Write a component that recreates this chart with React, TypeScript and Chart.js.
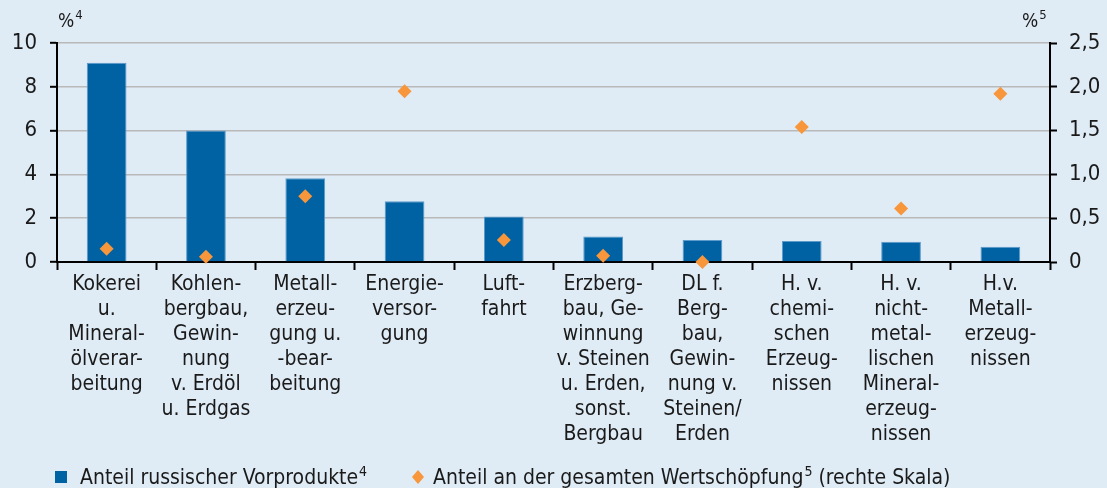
import React, { useEffect, useRef } from "react";
import { Chart, registerables } from "chart.js";

Chart.register(...registerables);

const categories: string[][] = [
  ["Kokerei", "u.", "Mineral-", "ölverar-", "beitung"],
  ["Kohlen-", "bergbau,", "Gewin-", "nung", "v. Erdöl", "u. Erdgas"],
  ["Metall-", "erzeu-", "gung u.", "-bear-", "beitung"],
  ["Energie-", "versor-", "gung"],
  ["Luft-", "fahrt"],
  ["Erzberg-", "bau, Ge-", "winnung", "v. Steinen", "u. Erden,", "sonst.", "Bergbau"],
  ["DL f.", "Berg-", "bau,", "Gewin-", "nung v.", "Steinen/", "Erden"],
  ["H. v.", "chemi-", "schen", "Erzeug-", "nissen"],
  ["H. v.", "nicht-", "metal-", "lischen", "Mineral-", "erzeug-", "nissen"],
  ["H.v.", "Metall-", "erzeug-", "nissen"],
];

const russianInputShare = [9.1, 6.0, 3.82, 2.77, 2.08, 1.17, 1.0, 0.96, 0.93, 0.7];
const valueAddedShare = [0.15, 0.06, 0.75, 1.95, 0.25, 0.07, 0.0, 1.54, 0.61, 1.92];

const leftTickValues = [0, 2, 4, 6, 8, 10];
const rightTickValues = [0, 0.5, 1.0, 1.5, 2.0, 2.5];

const legendBarLabel = "Anteil russischer Vorprodukte";
const legendBarSup = "4";
const legendPointLabel = "Anteil an der gesamten Wertschöpfung";
const legendPointSup = "5";
const legendPointSuffix = " (rechte Skala)";
const leftUnit = "%";
const leftUnitSup = "4";
const rightUnit = "%";
const rightUnitSup = "5";

const BG = "#dfebf5";
const BAR = "#0062a3";
const BAR_EDGE = "#5c9acb";
const DIAMOND = "#f7963a";
const GRID = "#b9b9b9";
const TEXT = "#1a1a1a";
const FAMILY = "'DejaVu Sans Condensed', 'DejaVu Sans', sans-serif";

function drawSupText(
  ctx: CanvasRenderingContext2D,
  x: number,
  y: number,
  main: string,
  sup: string,
  suffix: string,
  size: number
) {
  ctx.textBaseline = "alphabetic";
  ctx.textAlign = "left";
  ctx.font = `${size}px ${FAMILY}`;
  ctx.fillText(main, x, y);
  let cx = x + ctx.measureText(main).width + 1;
  ctx.font = `${Math.round(size * 0.68)}px ${FAMILY}`;
  ctx.fillText(sup, cx, y - size * 0.4);
  cx += ctx.measureText(sup).width;
  if (suffix) {
    ctx.font = `${size}px ${FAMILY}`;
    ctx.fillText(suffix, cx, y);
  }
}

const decorPlugin = {
  id: "decor",
  beforeDraw(chart: any) {
    const ctx = chart.ctx as CanvasRenderingContext2D;
    ctx.save();
    ctx.fillStyle = BG;
    ctx.fillRect(0, 0, chart.width, chart.height);
    ctx.restore();
  },
  afterDraw(chart: any) {
    const ctx = chart.ctx as CanvasRenderingContext2D;
    const area = chart.chartArea;
    ctx.save();
    ctx.fillStyle = TEXT;
    // unit labels
    drawSupText(ctx, area.left + 1, 27, leftUnit, leftUnitSup, "", 19);
    drawSupText(ctx, area.right - 28, 27, rightUnit, rightUnitSup, "", 19);

    // legend
    const ly = 477;
    ctx.fillStyle = BAR;
    ctx.fillRect(55, ly - 6, 12, 12);
    ctx.fillStyle = TEXT;
    drawSupText(ctx, 80, ly + 7, legendBarLabel, legendBarSup, "", 21);

    ctx.fillStyle = DIAMOND;
    ctx.beginPath();
    ctx.moveTo(418, ly - 7);
    ctx.lineTo(424, ly);
    ctx.lineTo(418, ly + 7);
    ctx.lineTo(412, ly);
    ctx.closePath();
    ctx.fill();
    ctx.fillStyle = TEXT;
    drawSupText(ctx, 433, ly + 7, legendPointLabel, legendPointSup, legendPointSuffix, 21);
    ctx.restore();
  },
};

export default function App() {
  const canvasRef = useRef<HTMLCanvasElement | null>(null);

  useEffect(() => {
    if (!canvasRef.current) return;
    const labelFont = { family: FAMILY, size: 21, lineHeight: 1.19 };
    const tickFont = { family: FAMILY, size: 22 };
    const chart = new Chart(canvasRef.current, {
      type: "bar",
      data: {
        labels: categories,
        datasets: [
          {
            type: "line",
            label: legendPointLabel,
            data: valueAddedShare,
            yAxisID: "y1",
            showLine: false,
            pointStyle: "rectRot",
            pointRadius: 7,
            pointHoverRadius: 7,
            pointBackgroundColor: DIAMOND,
            pointBorderColor: DIAMOND,
            pointBorderWidth: 0,
            borderColor: DIAMOND,
            backgroundColor: DIAMOND,
            clip: false,
            order: 0,
          } as any,
          {
            type: "bar",
            label: legendBarLabel,
            data: russianInputShare,
            yAxisID: "y",
            backgroundColor: BAR,
            borderColor: BAR_EDGE,
            borderWidth: 1,
            borderSkipped: "bottom",
            barPercentage: 0.5,
            categoryPercentage: 0.8,
            order: 1,
          },
        ],
      },
      options: {
        responsive: false,
        animation: false,
        events: [],
        layout: { padding: { top: 43, left: 0, right: 0, bottom: 0 } },
        plugins: {
          legend: { display: false },
          tooltip: { enabled: false },
          title: { display: false },
        },
        scales: {
          x: {
            offset: true,
            grid: {
              offset: true,
              drawOnChartArea: false,
              tickLength: 8,
              tickColor: "#000",
              tickWidth: 2,
            },
            border: { color: "#000", width: 2 },
            ticks: {
              autoSkip: false,
              maxRotation: 0,
              minRotation: 0,
              color: TEXT,
              font: labelFont,
              padding: 2,
            },
            afterFit: (scale: any) => {
              scale.height = 226;
            },
          },
          y: {
            position: "left",
            min: 0,
            max: 10,
            afterBuildTicks: (scale: any) => {
              scale.ticks = leftTickValues.map((v) => ({ value: v }));
            },
            grid: {
              color: (c: any) => (c.tick && c.tick.value === 0 ? "rgba(0,0,0,0)" : GRID),
              lineWidth: 1.6,
              tickLength: 7,
              tickColor: "#000",
              tickWidth: 2,
            },
            border: { color: "#000", width: 2 },
            ticks: {
              color: TEXT,
              font: tickFont,
              padding: 13,
              callback: (v: any) => String(v),
            },
            afterFit: (scale: any) => {
              scale.width = 57;
            },
          },
          y1: {
            position: "right",
            min: 0,
            max: 2.5,
            afterBuildTicks: (scale: any) => {
              scale.ticks = rightTickValues.map((v) => ({ value: v }));
            },
            grid: {
              drawOnChartArea: false,
              tickLength: 7,
              tickColor: "#000",
              tickWidth: 2,
            },
            border: { color: "#000", width: 2 },
            ticks: {
              color: TEXT,
              font: tickFont,
              padding: 12,
              callback: (v: any) =>
                Number(v) === 0 ? "0" : Number(v).toFixed(1).replace(".", ","),
            },
            afterFit: (scale: any) => {
              scale.width = 57;
            },
          },
        },
      },
      plugins: [decorPlugin],
    } as any);
    return () => chart.destroy();
  }, []);

  return (
    <div style={{ position: "absolute", left: 0, top: 0, width: 1107, height: 488, background: BG }}>
      <canvas ref={canvasRef} width={1107} height={488} style={{ display: "block" }} />
    </div>
  );
}
